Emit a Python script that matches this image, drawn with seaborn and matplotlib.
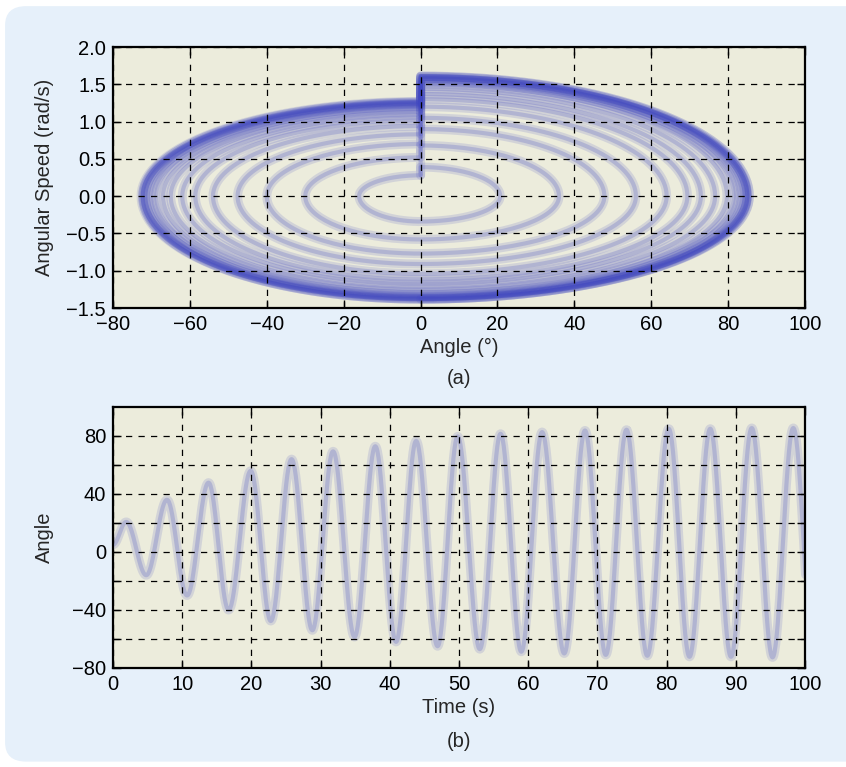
import numpy as np
import pandas as pd
import matplotlib
matplotlib.use('Agg')
import matplotlib.pyplot as plt
from matplotlib.patches import FancyBboxPatch
from matplotlib import font_manager
import seaborn as sns

# ---------------------------------------------------------------
# values
# time series (b): extrema of the angle (deg) and when they occur (s)
start_t, start_deg = 0.0, 5.0
peak_t = [1.9, 7.8, 13.8, 19.9, 25.8, 31.8, 37.9, 43.8, 49.8, 56.0, 62.0,
          68.2, 74.2, 80.3, 86.3, 92.3, 98.3]
peak_deg = [20.7, 36.0, 47.8, 56.0, 64.0, 69.4, 72.9, 76.6, 79.7, 81.5, 82.7,
            83.8, 84.3, 85.0, 85.0, 85.5, 85.5]
trough_t = [4.8, 10.7, 16.7, 22.8, 28.8, 34.9, 40.9, 46.9, 53.0, 59.0, 65.2,
            71.2, 77.2, 83.3, 89.3, 95.3, 101.3]
trough_deg = [-16.0, -30.0, -40.0, -47.6, -54.0, -58.6, -62.0, -65.0, -67.0,
              -68.8, -70.0, -71.0, -71.6, -72.3, -72.3, -72.7, -72.7]

# phase portrait (a): speed (rad/s) where each loop crosses angle = 0
speed_before_kick = [0.30, 0.28, 0.52, 0.70, 0.83, 0.94, 1.02, 1.08, 1.13,
                     1.17, 1.20, 1.22, 1.24, 1.25, 1.26, 1.26, 1.27]
speed_after_kick = [0.39, 0.68, 0.90, 1.05, 1.20, 1.30, 1.37, 1.44, 1.50,
                    1.53, 1.55, 1.58, 1.58, 1.60, 1.60, 1.61, 1.61]
speed_down = [0.34, 0.58, 0.77, 0.91, 1.04, 1.12, 1.18, 1.24, 1.29, 1.32,
              1.34, 1.36, 1.37, 1.38, 1.38, 1.38, 1.38]

# ---------------------------------------------------------------
# time series between extrema (half cosine from one extremum to the next)
ext_t = [start_t]
ext_v = [start_deg]
for i in range(len(peak_t)):
    ext_t += [peak_t[i], trough_t[i]]
    ext_v += [peak_deg[i], trough_deg[i]]
ts, vs = [], []
for i in range(len(ext_t) - 1):
    s = np.linspace(0, 1, 40)
    ts.append(ext_t[i] + s * (ext_t[i + 1] - ext_t[i]))
    vs.append(ext_v[i] + (ext_v[i + 1] - ext_v[i]) * (1 - np.cos(np.pi * s)) / 2)
df_time = pd.DataFrame({'t': np.concatenate(ts), 'angle': np.concatenate(vs)})

# phase loops built from quarter ellipses between the read points
th = np.linspace(0, np.pi / 2, 40)
rows = []
for k in range(len(peak_deg)):
    xs = [np.array([0.0, 0.0])]
    ys = [np.array([speed_before_kick[k], speed_after_kick[k]])]
    xs.append(peak_deg[k] * np.sin(th)); ys.append(speed_after_kick[k] * np.cos(th))
    xs.append(peak_deg[k] * np.cos(th)); ys.append(-speed_down[k] * np.sin(th))
    if k + 1 < len(speed_before_kick):
        xs.append(trough_deg[k] * np.sin(th)); ys.append(-speed_down[k] * np.cos(th))
        xs.append(trough_deg[k] * np.cos(th)); ys.append(speed_before_kick[k + 1] * np.sin(th))
    x = np.concatenate(xs); y = np.concatenate(ys)
    rows.append(pd.DataFrame({'angle': x, 'speed': y, 'loop': k}))
df_phase = pd.concat(rows, ignore_index=True)

# ---------------------------------------------------------------
sns.set_style('ticks')
names = {f.name for f in font_manager.fontManager.ttflist}
fam = 'Liberation Sans Narrow' if 'Liberation Sans Narrow' in names else 'Liberation Sans'
plt.rcParams['font.family'] = [fam, 'DejaVu Sans']
plt.rcParams['font.size'] = 14.5

line_col = '#4047C0'
bg_ax = '#ECECDC'

fig = plt.figure(figsize=(8.46, 7.67), dpi=100)
fig.patch.set_facecolor('white')
box = FancyBboxPatch((0.006, 0.007), 1.02, 0.985, transform=fig.transFigure,
                     boxstyle='round,pad=0,rounding_size=0.025',
                     facecolor='#E6F0FA', edgecolor='none', zorder=-10)
fig.patches.append(box)

ax1 = fig.add_axes([0.1336, 0.5984, 0.818, 0.3403])
ax2 = fig.add_axes([0.1336, 0.1291, 0.818, 0.3403])

for lw, a in [(6.5, 0.15), (3.0, 0.22)]:
    sns.lineplot(data=df_phase, x='angle', y='speed', units='loop', estimator=None,
                 sort=False, color=line_col, lw=lw, alpha=a, ax=ax1, legend=False)
    sns.lineplot(data=df_time, x='t', y='angle', estimator=None, sort=False,
                 color=line_col, lw=lw, alpha=a, ax=ax2, legend=False)

ax1.set_xlim(-80, 100)
ax1.set_ylim(-1.5, 2.0)
ax1.set_xticks(range(-80, 101, 20))
ax1.set_yticks(np.arange(-1.5, 2.01, 0.5))
ax1.set_yticklabels([('%.1f' % v).replace('-', '\u2212') for v in np.arange(-1.5, 2.01, 0.5)])
ax1.set_xlabel('Angle (°)', labelpad=3)
ax1.set_ylabel('Angular Speed (rad/s)')

ax2.set_xlim(0, 100)
ax2.set_ylim(-80, 100)
ax2.set_xticks(range(0, 101, 10))
yt = list(range(-80, 81, 20))
ax2.set_yticks(yt)
ax2.set_yticklabels([str(v).replace('-', '\u2212') if v % 40 == 0 else '' for v in yt])
ax2.set_xlabel('Time (s)', labelpad=3)
ax2.set_ylabel('Angle')

for ax in (ax1, ax2):
    ax.set_facecolor(bg_ax)
    ax.grid(True, color='black', linestyle=(0, (5, 5)), linewidth=0.9)
    ax.set_axisbelow(False)
    ax.tick_params(direction='in', top=True, right=True, length=6, width=1,
                   labelsize=14.5, colors='black', pad=5)
    for sp in ax.spines.values():
        sp.set_linewidth(1.6)
        sp.set_color('black')
        sp.set_visible(True)
    ax.yaxis.set_label_coords(-0.086, 0.5)
    for ln in ax.get_xgridlines() + ax.get_ygridlines():
        ln.set_zorder(3)

fig.text(0.5426, 0.507, '(a)', ha='center', va='center', fontsize=14.5)
fig.text(0.5426, 0.033, '(b)', ha='center', va='center', fontsize=14.5)

fig.savefig('out.png', dpi=100)
